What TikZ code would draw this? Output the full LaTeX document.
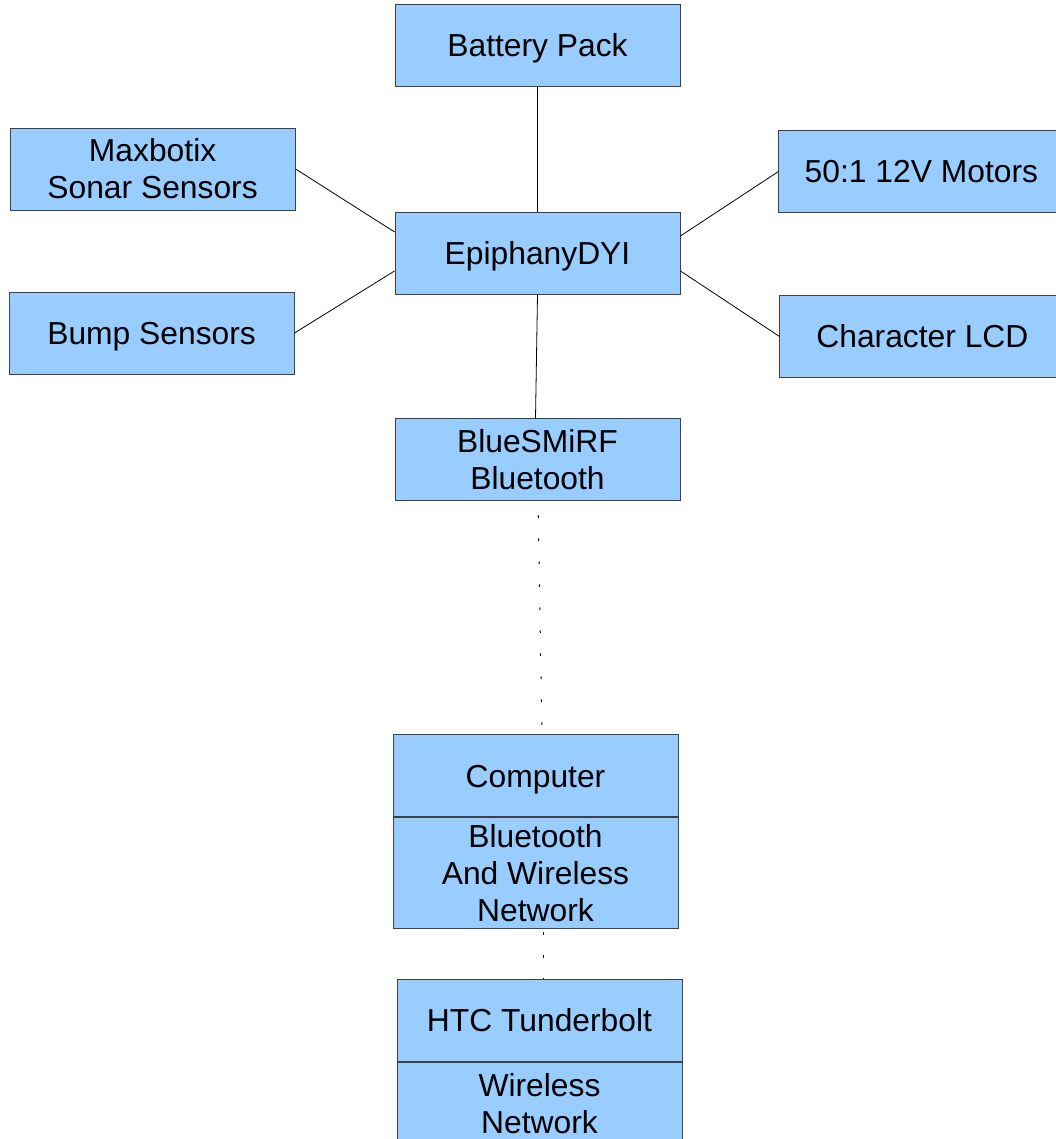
\documentclass[tikz,border=0pt]{standalone}
\usepackage{fontspec}
\setmainfont{Liberation Sans}
\usepackage{tikz}
\usetikzlibrary{positioning}

\definecolor{boxfill}{HTML}{99CCFF}
\tikzset{
  block/.style={draw=black!75, fill=boxfill, line width=0.9pt, minimum width=285pt,
    minimum height=82pt, inner sep=0pt, align=center,
    font=\fontsize{31.8}{37}\selectfont},
  oneline/.style={block, text height=22.8pt, text depth=0pt},
  wire/.style={draw=black, line width=0.8pt},
  radio/.style={draw=black, line width=1pt, dash pattern=on 2.5pt off 20.5pt, dash phase=-14pt}
}

\begin{document}
\begin{tikzpicture}[x=1pt, y=1pt]
  \useasboundingbox (0,0) rectangle (1055,1139);

  %Define nodes
  \node[oneline] (epi) at (537.5,886) {EpiphanyDYI};
  \node[oneline, above=125pt of epi] (battery) {Battery Pack};
  \node[block, left=99pt of epi, yshift=84pt] (sonar) {Maxbotix\\Sonar Sensors};
  \node[oneline, left=100pt of epi, yshift=-80pt] (bump) {Bump Sensors};
  \node[oneline, right=98pt of epi, yshift=81.5pt] (motors) {50:1 12V Motors};
  \node[oneline, right=99pt of epi, yshift=-83.5pt] (lcd) {Character LCD};
  \node[block, below=124pt of epi] (blue) {BlueSMiRF\\ Bluetooth};
  \node[oneline, below=233pt of blue, xshift=-2pt] (comp) {Computer};
  \node[block, below=0pt of comp, minimum height=111pt] (compnet) {Bluetooth\\And Wireless\\ Network};
  \node[oneline, below=50pt of compnet, xshift=4pt] (htc) {HTC Tunderbolt};
  \node[block, below=0pt of htc, anchor=north] (htcnet) {Wireless\\ Network};

  % Connect the nodes
  \draw[wire] (battery) -- (epi);
  \draw[wire] (sonar.east) -- ([yshift=21pt]epi.west);
  \draw[wire] (bump.east) -- ([yshift=-18pt]epi.west);
  \draw[wire] ([yshift=17pt]epi.east) -- (motors.west);
  \draw[wire] ([yshift=-18pt]epi.east) -- (lcd.west);
  \draw[wire] (epi.south) -- ([xshift=-2pt]blue.north);

  % Wireless links
  \draw[radio] ([xshift=0.5pt]blue.south) -- ([xshift=6.5pt]comp.north);
  \draw[radio, dash phase=-3pt] ([xshift=7.5pt]compnet.south) -- ([xshift=3.5pt]htc.north);

\end{tikzpicture}
\end{document}
